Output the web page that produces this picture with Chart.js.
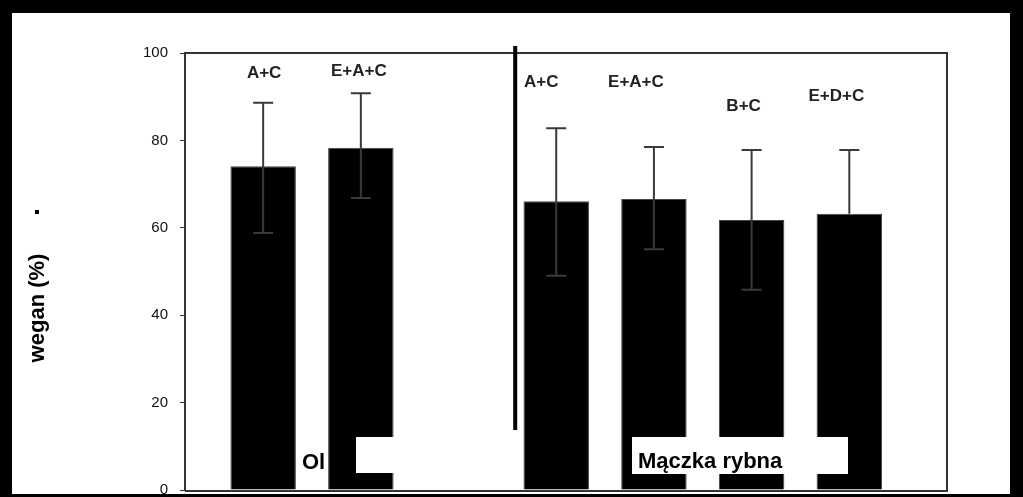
<!DOCTYPE html>
<html>
<head>
<meta charset="utf-8">
<script src="https://cdn.jsdelivr.net/npm/chart.js@4.4.1/dist/chart.umd.min.js"></script>
<style>
html, body { margin: 0; padding: 0; background: #000; }
</style>
</head>
<body>
<canvas id="wykres" width="1023" height="497"></canvas>
<script>
// dane
var groups = ['Olej', 'Olej', 'Mączka rybna', 'Mączka rybna', 'Mączka rybna', 'Mączka rybna'];
var letters = ['A+C', 'E+A+C', 'A+C', 'E+A+C', 'B+C', 'E+D+C'];
var means = [74.1, 78.3, 66.1, 66.6, 61.8, 63.2];
var errUp = [88.6, 90.8, 82.8, 78.5, 77.8, 77.8];
var errLow = [58.8, 66.8, 49.0, 55.1, 45.8, null];
var yTicks = [0, 20, 40, 60, 80, 100];

// uklad podpisow (poziom na osi Y, przesuniecie w px)
var letterLevel = [95.4, 95.9, 93.4, 93.4, 87.7, 90.0];
var letterDx = [1, -2, -15, -18, -8, -13];
var dividerAt = 2.58;

// miejsce slupka: kolejny numer + przerwa miedzy grupami
var groupNames = groups.filter(function (g, i) { return groups.indexOf(g) === i; });
var points = means.map(function (v, i) {
  return { x: i + groupNames.indexOf(groups[i]), y: v };
});

var font = '"Liberation Sans", Arial, sans-serif';

var extras = {
  id: 'extras',
  beforeDraw: function (chart) {
    var ctx = chart.ctx;
    ctx.save();
    ctx.fillStyle = '#000';
    ctx.fillRect(0, 0, chart.width, chart.height);
    ctx.fillStyle = '#fff';
    ctx.fillRect(12, 13, 998, 481);
    ctx.restore();
  },
  afterDatasetsDraw: function (chart) {
    var ctx = chart.ctx;
    var xs = chart.scales.x, ys = chart.scales.y;
    var area = chart.chartArea;
    var meta = chart.getDatasetMeta(0);
    ctx.save();

    // slupki bledow
    ctx.strokeStyle = '#3a3a3a';
    ctx.lineWidth = 2;
    meta.data.forEach(function (bar, i) {
      var yt = ys.getPixelForValue(errUp[i]);
      var yb = errLow[i] == null ? bar.y : ys.getPixelForValue(errLow[i]);
      ctx.beginPath();
      ctx.moveTo(bar.x, yt); ctx.lineTo(bar.x, yb);
      ctx.moveTo(bar.x - 10, yt); ctx.lineTo(bar.x + 10, yt);
      if (errLow[i] != null) {
        ctx.moveTo(bar.x - 10, yb); ctx.lineTo(bar.x + 10, yb);
      }
      ctx.stroke();
    });

    // ramka
    ctx.strokeStyle = '#333';
    ctx.lineWidth = 2;
    ctx.beginPath();
    ctx.moveTo(area.left, area.top);
    ctx.lineTo(area.right, area.top);
    ctx.lineTo(area.right, area.bottom + 1);
    ctx.lineTo(area.left, area.bottom + 1);
    ctx.stroke();

    // linia podzialu
    var dx = xs.getPixelForValue(dividerAt);
    ctx.fillStyle = '#000';
    ctx.fillRect(dx - 2, area.top - 7, 4, 384);

    // litery nad slupkami
    ctx.fillStyle = '#222';
    ctx.font = 'bold 17px ' + font;
    ctx.textAlign = 'center';
    ctx.textBaseline = 'middle';
    meta.data.forEach(function (bar, i) {
      ctx.fillText(letters[i], bar.x + letterDx[i], ys.getPixelForValue(letterLevel[i]));
    });

    // podpisy grup
    ctx.fillStyle = '#fff';
    ctx.fillRect(356, 437, 156, 36);
    ctx.fillRect(632, 437, 216, 37);
    ctx.fillStyle = '#000';
    ctx.font = 'bold 22px ' + font;
    ctx.textAlign = 'left';
    ctx.fillText(groupNames[0].slice(0, 2), 302, 463);
    ctx.fillText(groupNames[1], 638, 462);

    // tytul osi Y
    ctx.save();
    ctx.translate(44, 308);
    ctx.rotate(-Math.PI / 2);
    ctx.font = 'bold 22px ' + font;
    ctx.textAlign = 'center';
    ctx.textBaseline = 'alphabetic';
    ctx.fillText('wegan (%)', 0, 0);
    ctx.restore();
    ctx.fillRect(35, 210, 4, 4);

    ctx.restore();
  }
};

var ctx = document.getElementById('wykres').getContext('2d');
var chart = new Chart(ctx, {
  type: 'bar',
  data: {
    datasets: [{
      data: points,
      backgroundColor: '#000',
      borderColor: '#444',
      borderWidth: 1,
      barPercentage: 0.67,
      categoryPercentage: 1
    }]
  },
  options: {
    responsive: false,
    animation: false,
    layout: { padding: { left: 0, top: 53, right: 76, bottom: 7 } },
    plugins: { legend: { display: false }, tooltip: { enabled: false } },
    scales: {
      x: {
        type: 'linear',
        offset: false,
        min: -0.8,
        max: 7.0,
        display: false,
        afterBuildTicks: function (scale) {
          scale.ticks = points.map(function (p) { return { value: p.x }; });
        }
      },
      y: {
        min: 0,
        max: 100,
        afterBuildTicks: function (scale) {
          scale.ticks = yTicks.map(function (v) { return { value: v }; });
        },
        afterFit: function (scale) {
          scale.width = 185;
          scale.paddingTop = 0;
          scale.paddingBottom = 0;
        },
        border: { display: true, color: '#333', width: 2 },
        grid: { drawOnChartArea: false, drawTicks: true, tickLength: 5, color: '#333' },
        ticks: {
          padding: 12,
          color: '#111',
          font: { family: font, size: 15 }
        }
      }
    }
  },
  plugins: [extras]
});
</script>
</body>
</html>
